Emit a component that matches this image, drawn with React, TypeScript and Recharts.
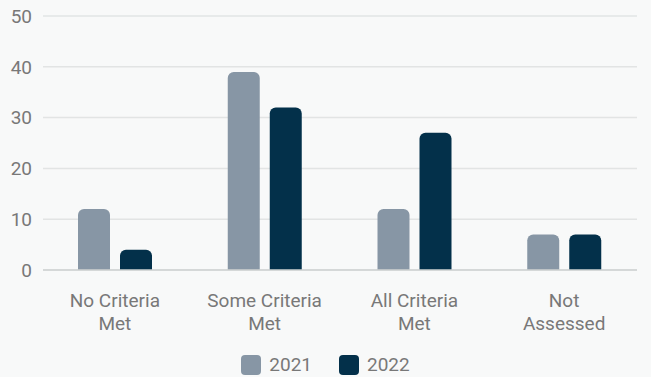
import { BarChart, Bar, XAxis, YAxis, CartesianGrid, Legend } from 'recharts';

const categories = ['No Criteria\nMet', 'Some Criteria\nMet', 'All Criteria\nMet', 'Not\nAssessed'];
const values2021 = [12, 39, 12, 7];
const values2022 = [4, 32, 27, 7];
const yTicks = [0, 10, 20, 30, 40, 50];

const series = [
  { key: '2021', color: '#8796a5' },
  { key: '2022', color: '#03304a' },
];

const data = categories.map((category, i) => ({
  category,
  '2021': values2021[i],
  '2022': values2022[i],
}));

const FONT = 'Roboto, sans-serif';
const TEXT = '#787878';

const CategoryTick = ({ x, y, payload }: any) => {
  const lines = String(payload.value).split('\n');
  return (
    <text x={x} y={y} textAnchor="middle" fill={TEXT} fontSize={19} fontFamily={FONT}>
      {lines.map((line, i) => (
        <tspan key={i} x={x} dy={i === 0 ? 29 : 23}>
          {line}
        </tspan>
      ))}
    </text>
  );
};

const LegendContent = () => (
  <div style={{ display: 'flex', justifyContent: 'center', gap: 27, fontFamily: FONT, fontSize: 19, color: TEXT }}>
    {series.map((s) => (
      <div key={s.key} style={{ display: 'flex', alignItems: 'center', gap: 8 }}>
        <span style={{ width: 20, height: 20, borderRadius: 4, background: s.color, display: 'inline-block' }} />
        <span>{s.key}</span>
      </div>
    ))}
  </div>
);

export default function App() {
  return (
    <div style={{ position: 'fixed', left: 0, top: 0, width: 651, height: 377, background: '#f8f9f9' }}>
      <BarChart
        width={651}
        height={377}
        data={data}
        margin={{ top: 16, right: 14, bottom: 1, left: 0 }}
        barSize={32}
        barGap={10}
      >
        <CartesianGrid vertical={false} stroke="#e2e4e4" strokeWidth={1.5} />
        <XAxis
          dataKey="category"
          tick={<CategoryTick />}
          tickLine={false}
          axisLine={{ stroke: '#cfd2d2', strokeWidth: 1.5 }}
          interval={0}
          height={83}
          padding={{ left: -3, right: -2 }}
        />
        <YAxis
          ticks={yTicks}
          domain={[0, 50]}
          width={43}
          tickLine={false}
          axisLine={false}
          tickMargin={5}
          tick={{ fill: TEXT, fontSize: 19, fontFamily: FONT }}
        />
        <Legend content={<LegendContent />} verticalAlign="bottom" wrapperStyle={{ left: 0, width: 651 }} />
        {series.map((s) => (
          <Bar key={s.key} dataKey={s.key} fill={s.color} radius={[6, 6, 0, 0]} isAnimationActive={false} />
        ))}
      </BarChart>
    </div>
  );
}
